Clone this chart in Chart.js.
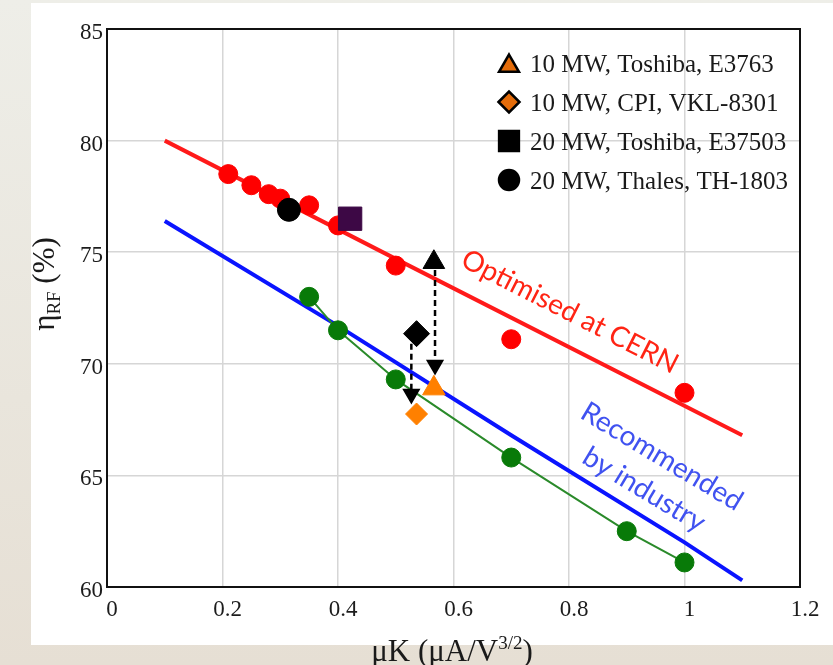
<!DOCTYPE html>
<html>
<head>
<meta charset="utf-8">
<script src="https://cdn.jsdelivr.net/npm/chart.js@4.4.1/dist/chart.umd.min.js"></script>
<style>
    html, body { margin: 0; padding: 0; }
    body {
        width: 833px; height: 665px; overflow: hidden; position: relative;
        background: linear-gradient(180deg, #eeeee8 0%, #e9e5dc 60%, #e6dfd4 100%);
    }
    #panel { position: absolute; left: 31px; top: 3px; width: 802px; height: 642px; background: #fff; }
    #wrap { position: absolute; left: 0; top: 0; width: 833px; height: 665px; }
</style>
</head>
<body>
<div id="panel"></div>
<div id="wrap"><canvas id="chart" width="833" height="665"></canvas></div>
<script>
// fitted trend lines
const cernLineX = [0.10, 0.50, 1.10];
const cernLineY = [80.0, 74.7, 66.8];
const industryLineX = [0.10, 0.40, 0.70, 1.00, 1.10];
const industryLineY = [76.4, 71.7, 66.8, 62.0, 60.3];

// data points
const cernPointsX = [0.21, 0.25, 0.28, 0.30, 0.35, 0.40, 0.50, 0.70, 1.00];
const cernPointsY = [78.5, 78.0, 77.6, 77.4, 77.1, 76.2, 74.4, 71.1, 68.7];
const industryPointsX = [0.35, 0.40, 0.50, 0.70, 0.90, 1.00];
const industryPointsY = [73.0, 71.5, 69.3, 65.8, 62.5, 61.1];

// tubes
const thalesX = [0.315], thalesY = [76.9];
const toshiba20X = [0.421], toshiba20Y = [76.5];
const toshiba10X = [0.566], toshiba10Y = [74.55], toshiba10MeasY = [68.9];
const cpiX = [0.536], cpiY = [71.35], cpiMeasY = [67.75];

// dashed arrows (start, tip)
const arrowToshibaX = [0.568, 0.568], arrowToshibaY = [74.2, 69.95];
const arrowCpiX = [0.527, 0.527], arrowCpiY = [70.9, 68.65];

const xTicks = [0, 0.2, 0.4, 0.6, 0.8, 1, 1.2];
const yTicks = [60, 65, 70, 75, 80, 85];

const legendLabels = ['10 MW, Toshiba, E3763', '10 MW, CPI, VKL-8301', '20 MW, Toshiba, E37503', '20 MW, Thales, TH-1803'];

const notes = [
    { text: 'Optimised at CERN', x: 0.61, y: 74.4, angle: 27, color: '#ff2414' },
    { text: 'Recommended', x: 0.817, y: 67.6, angle: 31, color: '#4052f0' },
    { text: 'by industry', x: 0.82, y: 65.6, angle: 31, color: '#4052f0' }
];

const pts = (xs, ys) => xs.map((x, i) => ({ x, y: ys[i] }));
const SERIF = '"Liberation Serif", "Times New Roman", serif';

const framePlugin = {
    id: 'frame',
    afterDraw(chart) {
        const { ctx, chartArea: a } = chart;
        ctx.save();
        ctx.strokeStyle = '#111';
        ctx.lineWidth = 2;
        ctx.strokeRect(a.left, a.top, a.right - a.left, a.bottom - a.top);
        ctx.restore();
    }
};

const titlesPlugin = {
    id: 'titles',
    afterDraw(chart) {
        const { ctx } = chart;
        ctx.save();
        ctx.fillStyle = '#1a1a1a';
        ctx.textBaseline = 'alphabetic';
        // x title
        const big = '31px ' + SERIF, small = '19px ' + SERIF;
        ctx.font = big;
        const a1 = 'μK (μA/V', a3 = ')';
        const w1 = ctx.measureText(a1).width, w3 = ctx.measureText(a3).width;
        ctx.font = small;
        const w2 = ctx.measureText('3/2').width;
        let x = 452 - (w1 + w2 + w3) / 2, y = 661;
        ctx.font = big; ctx.fillText(a1, x, y); x += w1;
        ctx.font = small; ctx.fillText('3/2', x, y - 12); x += w2;
        ctx.font = big; ctx.fillText(a3, x, y);
        // y title
        ctx.translate(54, 284);
        ctx.rotate(-Math.PI / 2);
        ctx.font = big;
        const b1 = 'η', b3 = ' (%)';
        const v1 = ctx.measureText(b1).width, v3 = ctx.measureText(b3).width;
        ctx.font = small;
        const v2 = ctx.measureText('RF').width;
        x = -(v1 + v2 + v3) / 2;
        ctx.font = big; ctx.fillText(b1, x, 0); x += v1;
        ctx.font = small; ctx.fillText('RF', x, 6); x += v2;
        ctx.font = big; ctx.fillText(b3, x, 0);
        ctx.restore();
    }
};

const notesPlugin = {
    id: 'notes',
    afterDatasetsDraw(chart) {
        const { ctx, scales } = chart;
        ctx.save();
        ctx.font = '28px Lato, "Open Sans", sans-serif';
        ctx.textBaseline = 'alphabetic';
        notes.forEach(n => {
            ctx.save();
            ctx.translate(scales.x.getPixelForValue(n.x), scales.y.getPixelForValue(n.y));
            ctx.rotate(n.angle * Math.PI / 180);
            ctx.fillStyle = n.color;
            ctx.fillText(n.text, 0, 0);
            ctx.restore();
        });
        ctx.restore();
    }
};

const legendPlugin = {
    id: 'insideLegend',
    afterDraw(chart) {
        const { ctx, chartArea: a } = chart;
        const styles = [
            { pointStyle: 'triangle', radius: 11.5, fill: '#e46c0a' },
            { pointStyle: 'rectRot', radius: 10.5, fill: '#e46c0a' },
            { pointStyle: 'rect', radius: 14, fill: '#000' },
            { pointStyle: 'circle', radius: 10, fill: '#000' }
        ];
        const mx = a.right - 291, tx = a.right - 270;
        ctx.save();
        legendLabels.forEach((label, i) => {
            const base = a.top + 43 + i * 39;
            const s = styles[i];
            ctx.fillStyle = s.fill;
            ctx.strokeStyle = '#000';
            ctx.lineWidth = 2.5;
            Chart.helpers.drawPoint(ctx, { pointStyle: s.pointStyle, radius: s.radius, rotation: 0, borderWidth: 2.5 }, mx, base - (i === 0 ? 6 : 9));
            ctx.fillStyle = '#1a1a1a';
            ctx.font = '25px ' + SERIF;
            ctx.textBaseline = 'alphabetic';
            ctx.fillText(label, tx, base);
        });
        ctx.restore();
    }
};

new Chart(document.getElementById('chart'), {
    type: 'scatter',
    data: {
        datasets: [
            { label: 'Optimised at CERN', data: pts(cernLineX, cernLineY), showLine: true, borderColor: '#ff1a1a', borderWidth: 4, pointRadius: 0, order: 9 },
            { label: 'Recommended by industry', data: pts(industryLineX, industryLineY), showLine: true, borderColor: '#0a14ff', borderWidth: 4, pointRadius: 0, order: 9 },
            { label: 'Industry tubes', data: pts(industryPointsX, industryPointsY), showLine: true, borderColor: '#2a8a2a', borderWidth: 2, pointRadius: 9.5, pointBackgroundColor: '#087a08', pointBorderColor: '#087a08', pointBorderWidth: 1, order: 6 },
            { label: 'CERN designs', data: pts(cernPointsX, cernPointsY), pointRadius: 9.5, backgroundColor: '#ff0000', borderColor: '#ff0000', borderWidth: 1, order: 5 },
            { label: '20 MW, Thales, TH-1803', data: pts(thalesX, thalesY), pointRadius: 11.5, backgroundColor: '#000', borderColor: '#000', order: 4 },
            { label: '20 MW, Toshiba, E37503', data: pts(toshiba20X, toshiba20Y), pointStyle: 'rect', pointRadius: 16.5, backgroundColor: '#3d0845', borderColor: '#3d0845', borderWidth: 1, order: 4 },
            { label: 'arrow Toshiba', data: pts(arrowToshibaX, arrowToshibaY), showLine: true, borderColor: '#000', borderWidth: 2.5, borderDash: [6, 4], pointRadius: [0, 8], pointStyle: 'triangle', pointRotation: 180, backgroundColor: '#000', order: 3 },
            { label: 'arrow CPI', data: pts(arrowCpiX, arrowCpiY), showLine: true, borderColor: '#000', borderWidth: 2.5, borderDash: [6, 4], pointRadius: [0, 8], pointStyle: 'triangle', pointRotation: 180, backgroundColor: '#000', order: 3 },
            { label: '10 MW, Toshiba (design)', data: pts(toshiba10X, toshiba10Y), pointStyle: 'triangle', pointRadius: 12.5, backgroundColor: '#000', borderColor: '#000', borderWidth: 1, order: 1 },
            { label: '10 MW, CPI (design)', data: pts(cpiX, cpiY), pointStyle: 'rectRot', pointRadius: 13, backgroundColor: '#000', borderColor: '#000', borderWidth: 1, order: 1 },
            { label: '10 MW, Toshiba, E3763', data: pts(toshiba10X, toshiba10MeasY), pointStyle: 'triangle', pointRadius: 13, backgroundColor: '#ff8000', borderColor: '#ff8000', borderWidth: 1, order: 1 },
            { label: '10 MW, CPI, VKL-8301', data: pts(cpiX, cpiMeasY), pointStyle: 'rectRot', pointRadius: 11, backgroundColor: '#ff8000', borderColor: '#ff8000', borderWidth: 1, order: 1 }
        ]
    },
    options: {
        responsive: false,
        animation: false,
        layout: { padding: { left: 0, top: 29, right: 33, bottom: 0 } },
        plugins: { legend: { display: false }, tooltip: { enabled: false } },
        scales: {
            x: {
                type: 'linear', min: 0, max: 1.2,
                afterFit: s => { s.height = 78; },
                afterBuildTicks: s => { s.ticks = xTicks.map(v => ({ value: v })); },
                ticks: { font: { family: SERIF, size: 23 }, color: '#1c1c1c', padding: 9, labelOffset: 5, maxRotation: 0, callback: v => String(+v.toFixed(1)) },
                grid: { color: '#d6d6d6', lineWidth: 1.5, drawTicks: false },
                border: { color: '#111', width: 2 }
            },
            y: {
                type: 'linear', min: 60, max: 85,
                afterFit: s => { s.width = 107; },
                afterBuildTicks: s => { s.ticks = yTicks.map(v => ({ value: v })); },
                ticks: { font: { family: SERIF, size: 23 }, color: '#1c1c1c', padding: 4, labelOffset: 4 },
                grid: { color: '#d6d6d6', lineWidth: 1.5, drawTicks: false },
                border: { color: '#111', width: 2 }
            }
        }
    },
    plugins: [framePlugin, notesPlugin, titlesPlugin, legendPlugin]
});
</script>
</body>
</html>
